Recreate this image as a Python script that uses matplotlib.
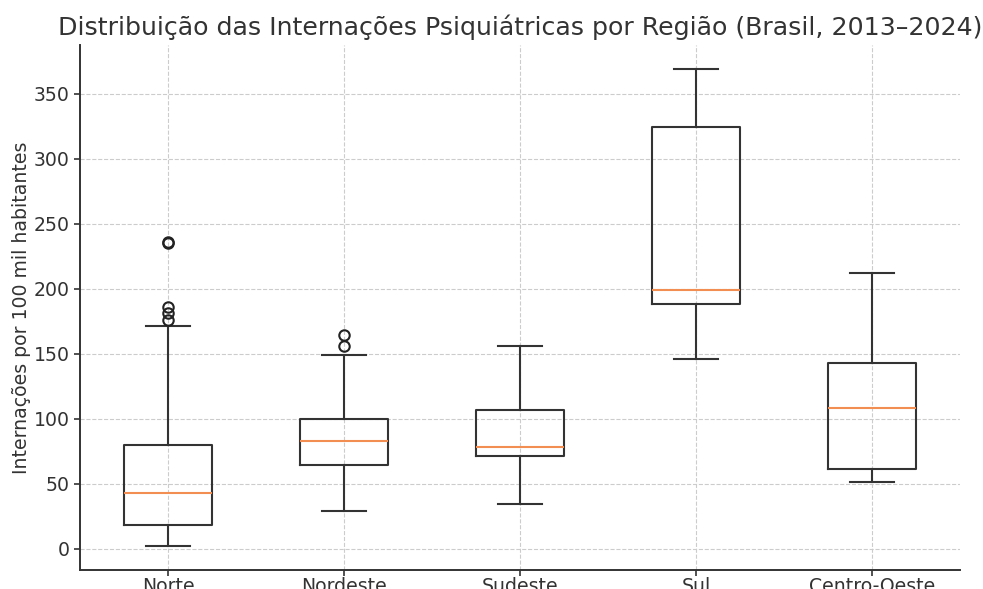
import matplotlib.pyplot as plt

regioes = ['Norte', 'Nordeste', 'Sudeste', 'Sul', 'Centro-Oeste']
whislo = [2, 29, 34, 146, 51]
q1 = [18, 64, 71, 188, 61]
mediana = [43, 83, 78, 199, 108]
q3 = [80, 100, 107, 324, 143]
whishi = [171, 149, 156, 369, 212]
outliers = [[176, 181, 186, 235, 236], [156, 164], [], [], []]

stats = []
for i in range(len(regioes)):
    stats.append(dict(label=regioes[i], whislo=whislo[i], q1=q1[i], med=mediana[i],
                      q3=q3[i], whishi=whishi[i], fliers=outliers[i]))

plt.rcParams['text.color'] = '#333333'
plt.rcParams['axes.labelcolor'] = '#333333'
plt.rcParams['xtick.color'] = '#333333'
plt.rcParams['ytick.color'] = '#333333'

fig = plt.figure(figsize=(9.83, 5.89), dpi=100)
ax = fig.add_axes([0.0814, 0.0323, 0.8952, 0.8913])

ax.bxp(stats, widths=0.5,
       boxprops=dict(color='#333333', linewidth=1.5),
       whiskerprops=dict(color='#333333', linewidth=1.5),
       capprops=dict(color='#333333', linewidth=1.5),
       medianprops=dict(color='#f28e52', linewidth=1.5),
       flierprops=dict(marker='o', markerfacecolor='none', markeredgecolor='#222222',
                       markersize=7.5, markeredgewidth=1.5))

ax.set_title('Distribuição das Internações Psiquiátricas por Região (Brasil, 2013–2024)',
             fontsize=18.2, pad=7)
ax.set_ylabel('Internações por 100 mil habitantes', fontsize=13.6, labelpad=2)
ax.tick_params(labelsize=13.6, width=1.2, length=4)
ax.tick_params(axis='x', pad=1)
ax.grid(True, linestyle='--', color='#cccccc', linewidth=0.8)
ax.set_axisbelow(True)
for s in ['top', 'right']:
    ax.spines[s].set_visible(False)
for s in ['left', 'bottom']:
    ax.spines[s].set_color('#333333')
    ax.spines[s].set_linewidth(1.4)

plt.savefig('out.png', dpi=100)
